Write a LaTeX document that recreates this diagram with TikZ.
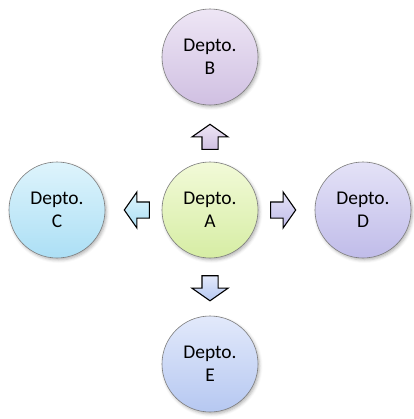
\documentclass[tikz,border=0pt]{standalone}
\usepackage{fontspec}
\setmainfont{Carlito}
\usetikzlibrary{shapes.arrows,shadows.blur,calc}

% department palette: light top, deeper bottom
\definecolor{aTop}{RGB}{242,250,216}\definecolor{aBot}{RGB}{214,237,164}
\definecolor{bTop}{RGB}{238,230,245}\definecolor{bBot}{RGB}{208,192,226}
\definecolor{cTop}{RGB}{222,244,252}\definecolor{cBot}{RGB}{172,223,245}
\definecolor{dTop}{RGB}{228,226,247}\definecolor{dBot}{RGB}{192,188,233}
\definecolor{eTop}{RGB}{226,233,251}\definecolor{eBot}{RGB}{182,200,241}
\definecolor{rim}{RGB}{125,125,125}

\tikzset{
  dept/.style={circle, minimum size=96bp, inner sep=0pt, align=center,
    draw=rim, line width=0.6bp,
    font=\fontsize{19.5}{23.5}\selectfont,
    blur shadow={shadow xshift=1.5bp, shadow yshift=-2bp, shadow blur radius=3bp, shadow opacity=30}},
  flow/.style={single arrow, draw=black, line width=1.1bp,
    minimum height=25bp, minimum width=35bp,
    inner xsep=0pt, inner ysep=7.5bp,
    single arrow head extend=10bp, single arrow tip angle=110,
    single arrow head indent=0pt, shading=axis},
  % keep the gradient upright on the page whatever the arrow's direction
  flowto/.style n args={3}{flow, rotate=#1, shading angle=-#1,
    top color=#2, bottom color=#3},
}

\begin{document}
\begin{tikzpicture}[x=1bp,y=-1bp]
  \useasboundingbox (0,0) rectangle (414,419);

  % departments
  \node[dept, top color=aTop, bottom color=aBot] (A) at (210,210) {Depto.\\A};
  \node[dept, top color=bTop, bottom color=bBot] (B) at (210,57)  {Depto.\\B};
  \node[dept, top color=cTop, bottom color=cBot] (C) at (57,210)  {Depto.\\C};
  \node[dept, top color=dTop, bottom color=dBot] (D) at (363,210) {Depto.\\D};
  \node[dept, top color=eTop, bottom color=eBot] (E) at (210,364) {Depto.\\E};

  % block arrows from A towards each department
  \node[flowto={90}{bTop}{bBot}]  (AB) at ($(A)!0.46!(B)$) {};
  \node[flowto={180}{cTop}{cBot}] (AC) at ($(A)!0.46!(C)$) {};
  \node[flowto={0}{dTop}{dBot}]   (AD) at ($(A)!0.46!(D)$) {};
  \node[flowto={270}{eTop}{eBot}] (AE) at ($(A)!0.49!(E)$) {};
\end{tikzpicture}
\end{document}
